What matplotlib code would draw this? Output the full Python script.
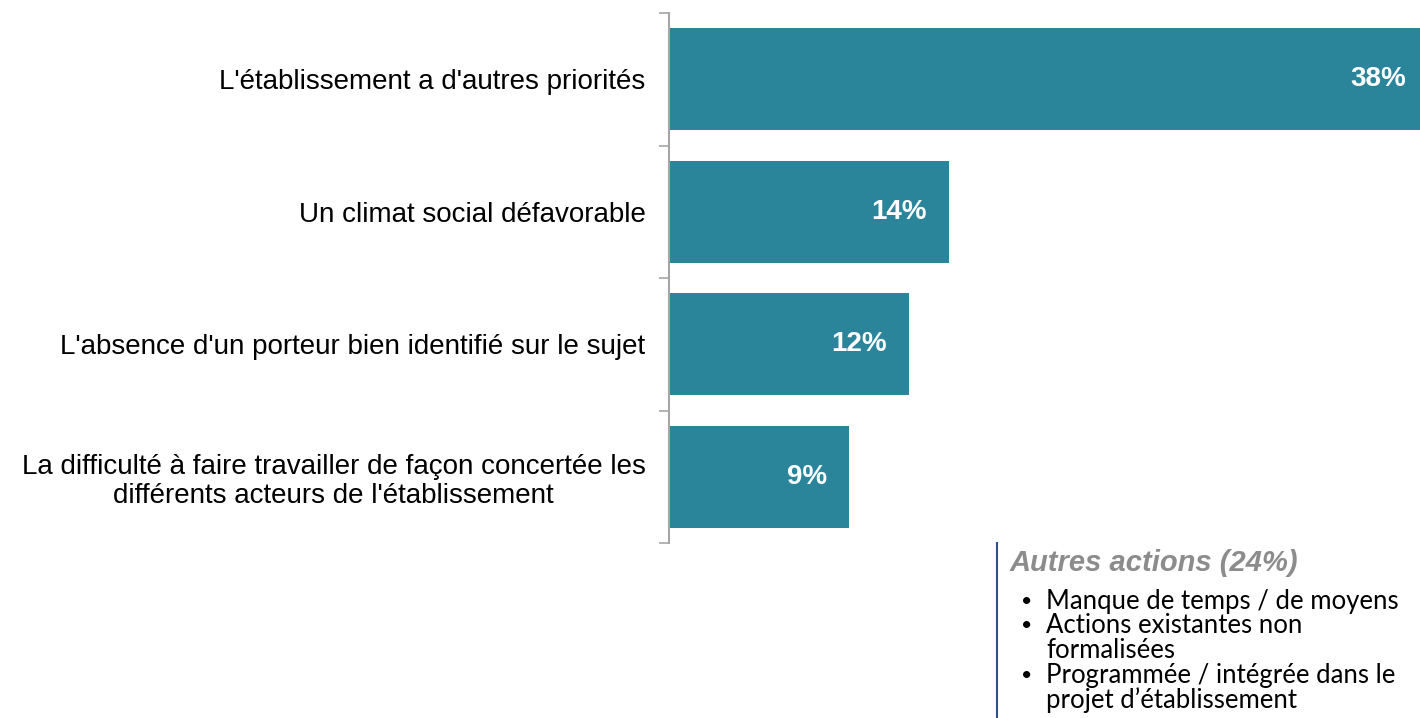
import matplotlib
matplotlib.use('Agg')
import matplotlib.pyplot as plt
from matplotlib.lines import Line2D

# data
categories = ["L'établissement a d'autres priorités",
              "Un climat social défavorable",
              "L'absence d'un porteur bien identifié sur le sujet",
              "La difficulté à faire travailler de façon concertée les\ndifférents acteurs de l'établissement"]
values = [38, 14, 12, 9]
value_labels = ['38%', '14%', '12%', '9%']

box_title = 'Autres actions (24%)'
box_items = ['Manque de temps / de moyens',
             'Actions existantes non\nformalisées',
             'Programmée / intégrée dans le\nprojet d\u2019établissement']

W, H = 1420, 718
bar_color = '#2a859b'

fig = plt.figure(figsize=(W / 100, H / 100), dpi=100)
ax = fig.add_axes([669 / W, 1 - 543 / H, 1 - 669 / W, (543 - 13) / H])

pos = list(range(len(categories)))
ax.barh(pos, values, height=0.77, color=bar_color)
ax.set_ylim(len(categories) - 0.5, -0.5)
ax.set_xlim(0, 37.6)

# value labels inside the bars
for p, v, lbl in zip(pos, values, value_labels):
    ax.annotate(lbl, xy=(v, p), xytext=(-22, 0), textcoords='offset pixels',
                ha='right', va='center', color='white', fontsize=20,
                fontweight='bold', family='Liberation Sans', annotation_clip=False)

# ticks at the category boundaries, labels at the centres
ax.set_yticks([p - 0.5 for p in pos] + [len(pos) - 0.5])
ax.set_yticklabels([])
ax.set_yticks(pos, minor=True)
ax.set_yticklabels(categories, minor=True, fontsize=20, family='Liberation Sans',
                   ha='right', multialignment='center', linespacing=1.15)
ax.tick_params(axis='y', which='major', length=7, width=1.2, color='#a6a6a6')
ax.tick_params(axis='y', which='minor', length=0, pad=17)
ax.set_xticks([])
for s in ['top', 'right', 'bottom']:
    ax.spines[s].set_visible(False)
ax.spines['left'].set_color('#a6a6a6')
ax.spines['left'].set_linewidth(1.5)

# side note box
fig.add_artist(Line2D([997 / W, 997 / W], [1 - 543 / H, 0], color='#2e4f8c', lw=1.5))
fig.text(1010 / W, 1 - 563 / H, box_title, color='#8c8c8c', fontsize=21,
         fontweight='bold', style='italic', family='Liberation Sans', va='center')

y = 601
for item in box_items:
    lines = item.split('\n')
    fig.text(1021 / W, 1 - y / H, '\u2022', fontsize=14, family='Lato', va='center')
    for ln in lines:
        fig.text(1046 / W, 1 - y / H, ln, fontsize=18.5, family='Lato', va='center')
        y += 24.8

fig.savefig('out.png', dpi=100)
